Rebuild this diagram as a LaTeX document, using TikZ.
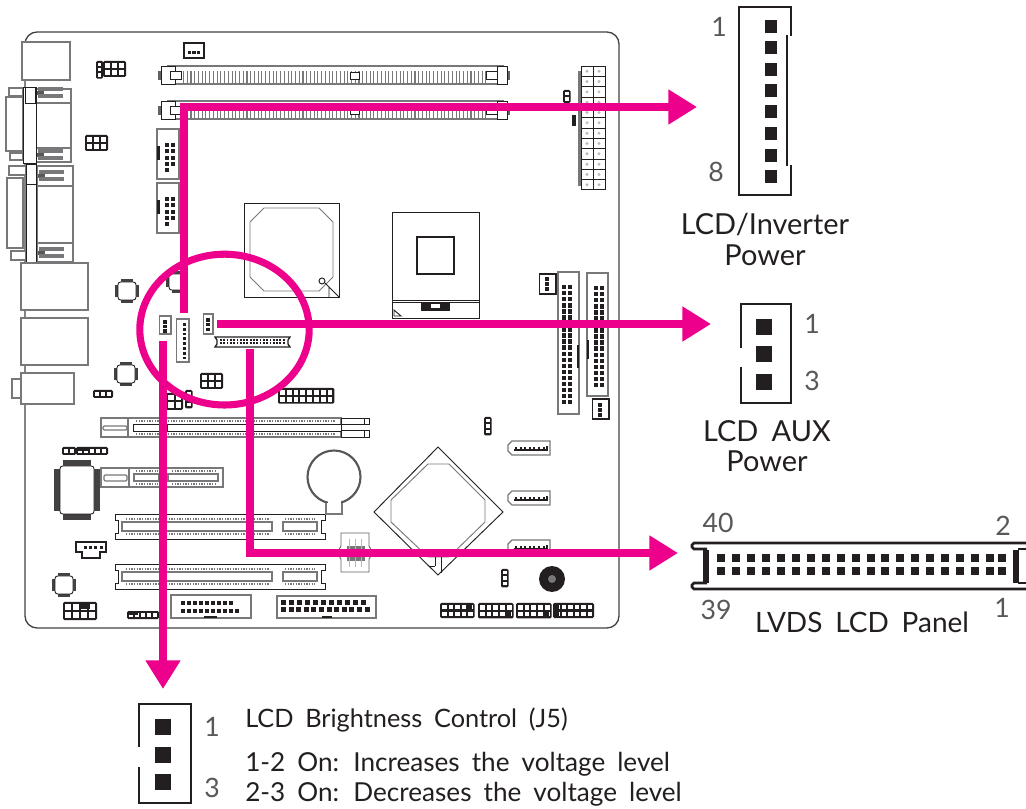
\documentclass[tikz,border=0pt]{standalone}
\usepackage{fontspec}
\setmainfont[WordSpace=1.8]{Lato}
\usetikzlibrary{arrows.meta}
\definecolor{ink}{RGB}{35,31,32}
\definecolor{pink}{RGB}{236,0,140}
\definecolor{midgray}{RGB}{120,120,122}
\definecolor{dotgray}{RGB}{185,185,187}
\tikzset{
  part/.style={draw=ink, fill=white, line width=0.7pt},
  soft/.style={draw=midgray, fill=white, line width=0.9pt},
  wall/.style={draw=ink, line width=1.9pt},
  guide/.style={draw=pink, line width=5.3pt, line join=miter,
                -{Triangle[length=21.5pt, width=25pt]}},
  lbl/.style={font=\fontsize{21.7}{26}\selectfont, text=ink, inner sep=0pt},
  num/.style={font=\fontsize{20}{24}\selectfont, text=ink!75, inner sep=0pt},
  note/.style={font=\fontsize{19.6}{24}\selectfont, text=ink, inner sep=0pt, anchor=west},
  tiny/.style={line width=2.2pt, draw=midgray, dash pattern=on 0.9pt off 1.1pt}
}
% black pins: x, y, cols, rows, dx, dy, size
\newcommand{\pins}[7]{\foreach \i in {1,...,#3}\foreach \j in {1,...,#4}
  {\fill[ink] ({#1+(\i-1)*#5},{#2+(\j-1)*#6}) rectangle +(#7,#7);}}
% jumper block: x, y, cols, rows, pitch
\newcommand{\hdr}[5]{\fill[ink, rounded corners=1pt] (#1,#2) rectangle +({#3*#5+2},{#4*#5+2});
  \foreach \i in {1,...,#3}\foreach \j in {1,...,#4}
  {\fill[white] ({#1+2+(\i-1)*#5},{#2+2+(\j-1)*#5}) rectangle +({#5-2},{#5-2});}}
% leaded chip: cx, cy, half width, half height, lead
\newcommand{\chip}[5]{\fill[ink!85] ({#1-#3+3},{#2-#4-#5}) rectangle ({#1+#3-3},{#2+#4+#5});
  \fill[ink!85] ({#1-#3-#5},{#2-#4+3}) rectangle ({#1+#3+#5},{#2+#4-3});
  \draw[part, rounded corners=2pt] ({#1-#3},{#2-#4}) rectangle ({#1+#3},{#2+#4});}
% memory socket: y
\newcommand{\dimm}[1]{
  \draw[soft] (168,#1) rectangle (503,#1+18);
  \draw[tiny, line width=9.5pt, dash pattern=on 0.8pt off 2pt] (183,#1+11) -- (486,#1+11);
  \draw[part, fill=white] (350,#1+6) rectangle (359,#1+13);
  \fill[ink!70] (158,#1+5) rectangle (166,#1+14);
  \draw[part] (161,#1) rectangle (175,#1+18);
  \draw[part] (170,#1+5) rectangle (181,#1+13);
  \fill[ink!70] (503,#1+5) rectangle (510,#1+14);
  \draw[part] (497,#1) rectangle (507,#1+18);
  \draw[part] (486,#1+5) rectangle (497,#1+13);}
% long slot: y
\newcommand{\pcislot}[1]{
  \draw[part] (115,#1) -- (325,#1) -- (325,#1+6) -- (321,#1+6) -- (321,#1+19) -- (325,#1+19) -- (325,#1+25)
    -- (115,#1+25) -- (115,#1+19) -- (118,#1+19) -- (118,#1+6) -- (115,#1+6) -- cycle;
  \draw[soft] (122,#1+8) rectangle (272,#1+17);
  \draw[soft] (283,#1+8) rectangle (317,#1+17);
  \draw[tiny] (126,#1+5) -- (270,#1+5) (126,#1+20) -- (270,#1+20);
  \draw[tiny] (285,#1+5) -- (315,#1+5) (285,#1+20) -- (315,#1+20);}
% sata socket: y
\newcommand{\sata}[1]{
  \draw[soft] (512,#1) -- (550,#1) -- (550,#1+14) -- (512,#1+14) -- (508,#1+10) -- (508,#1+4) -- cycle;
  \fill[ink] (514,#1+8) rectangle (547,#1+10);
  \pins{515}{#1+6}{7}{1}{4.6}{1}{2}
  \fill[ink] (546,#1+5) rectangle (547.5,#1+10);}
\begin{document}
\begin{tikzpicture}[x=0.75pt, y=-0.75pt]
  \useasboundingbox (0,0) rectangle (1026,809);
  \fill[white] (0,0) rectangle (1026,809);
  % board
  \draw[draw=ink!85, line width=1pt, rounded corners=9pt] (25,32) rectangle (619,628);
  % left edge ports
  \draw[soft] (22,42) rectangle (70,80);
  \draw[soft] (6,97) rectangle (23,151);
  \draw[soft] (9,88) rectangle (23,96);
  \draw[soft] (10,153) rectangle (23,160);
  \draw[soft] (36,89) rectangle (71,162);
  \draw[soft] (36,103) -- (71,103) (36,148) -- (71,148);
  \draw[part] (23,87) rectangle (36,163);
  \draw[part] (25,87) rectangle (35,103);
  \foreach \sy in {93,155}{
    \fill[ink!75] (37,\sy-1.5) rectangle (44,\sy+2);
    \draw[soft] (38,\sy-5) -- (62,\sy-5) -- (62,\sy-3) -- (38,\sy-3);
    \draw[soft] (38,\sy+2) -- (62,\sy+2) -- (62,\sy+4) -- (38,\sy+4);}
  \draw[soft] (7,178) rectangle (23,248);
  \draw[soft] (9,166) rectangle (26,175);
  \draw[soft] (11,251) rectangle (26,260);
  \draw[soft] (37,166) rectangle (73,262);
  \draw[soft] (37,186) -- (73,186) (37,243) -- (73,243);
  \draw[part] (26,164) rectangle (36,263);
  \draw[part] (26,164) rectangle (36,184);
  \foreach \sy in {176,253}{
    \fill[ink!75] (38,\sy-1.5) rectangle (45,\sy+2);
    \draw[soft] (39,\sy-5) -- (63,\sy-5) -- (63,\sy-3) -- (39,\sy-3);
    \draw[soft] (39,\sy+2) -- (63,\sy+2) -- (63,\sy+4) -- (39,\sy+4);}
  \draw[soft] (21,263) rectangle (88,310);
  \draw[soft] (21,318) rectangle (88,365);
  \draw[soft] (12,379) rectangle (21,398);
  \draw[soft] (21,373) rectangle (74,404);
  % top row
  \draw[part, line width=1.1pt] (184,43) rectangle (204,58);
  \pins{188}{51}{3}{1}{4.3}{1}{3.2}
  \hdr{96}{61}{1}{3}{5.2}
  \hdr{103}{61}{3}{2}{7}
  \hdr{85}{135}{3}{2}{7}
  \dimm{66}
  \dimm{101}
  % boxed headers beside the ports
  \foreach \by in {129,183}{
    \draw[soft] (157,\by) rectangle (179,\by+50);
    \fill[ink] (157,\by+17) rectangle (159.5,\by+31);
    \pins{165}{\by+14}{2}{4}{6}{6.3}{4}
    \pins{165}{\by+39}{1}{1}{6}{6}{4}}
  % power
  \fill[midgray] (578,71) rectangle (581,186);
  \foreach \ax in {581,593}\foreach \ay in {0,...,11}{
    \draw[part] (\ax,66+\ay*10.33) rectangle +(12,10.33);
    \fill[dotgray] (\ax+6,66+\ay*10.33+5.2) circle[radius=1.6];}
  \hdr{563}{90}{1}{2}{5.5}
  \fill[ink] (572,115) rectangle (576,126);
  % bridge and cpu
  \draw[part] (244,203) rectangle (339,297);
  \draw[soft, line width=0.7pt] (264,208) -- (319,208) -- (333,222) -- (333,277) -- (319,291) -- (264,291) -- (250,277) -- (250,222) -- cycle;
  \draw[part] (322,281) circle[radius=3];
  \draw[part] (339,297) -- (325,283) (329,287) -- (329,297);
  \draw[part] (392,212) rectangle (479,318);
  \draw[part, line width=1pt] (417,237) rectangle (454,274);
  \draw[part] (392,300) -- (479,300) (392,302) -- (479,302);
  \fill[ink] (421,302) rectangle (450,311);
  \fill[white] (431,304) rectangle (440,308);
  \draw[part] (394,310) -- (394,316) -- (401,316) -- cycle;
  % ide
  \draw[soft] (558,272) rectangle (579,414);
  \pins{562}{285}{2}{20}{6}{6.05}{4.4}
  \fill[ink] (577,345) rectangle (579,368);
  \draw[soft] (587,273) rectangle (608,396);
  \pins{594}{286}{2}{17}{6}{6.05}{4.4}
  \fill[ink] (587,340) rectangle (589,359);
  \draw[part, line width=1.1pt] (539.5,274) rectangle (556,294);
  \pins{545}{277}{1}{3}{1}{5}{4}
  \draw[part, line width=1.1pt] (592.5,399) rectangle (609,419);
  \pins{598}{403}{1}{3}{1}{5}{4}
  % chips
  \chip{127}{291}{9}{9}{3}
  \chip{126}{374}{9}{9}{3}
  \chip{177}{282}{8}{8}{3}
  \chip{77}{490}{17}{24}{6}
  \chip{64}{585}{9}{9}{3}
  % circled group
  \draw[soft] (159.5,316) rectangle (171,334);
  \pins{163}{320}{1}{3}{1}{4.6}{3.6}
  \draw[soft] (176.5,319) rectangle (189,362);
  \pins{183}{323}{1}{8}{1}{4.8}{2.8}
  \draw[soft] (203.5,314) rectangle (213,334);
  \pins{206}{318}{1}{3}{1}{4.8}{3.6}
  \draw[part, line width=1pt] (215,337) -- (290,337) -- (288,340) -- (288,344) -- (290,347) -- (215,347) -- (217,344) -- (217,340) -- cycle;
  \pins{220}{339.5}{20}{2}{3.3}{3}{1.8}
  \hdr{200}{373}{3}{2}{7}
  \hdr{166}{393}{2}{2}{7.5}
  \hdr{185}{390}{1}{3}{5.5}
  \hdr{278}{388}{8}{2}{6.8}
  % small headers
  \hdr{93}{390}{3}{1}{6}
  \hdr{62}{447}{2}{1}{6}
  \hdr{76}{447}{5}{1}{6}
  \fill[ink] (78,448) rectangle (89,451);
  \draw[part, line width=1pt] (76,542) -- (106,542) -- (106,552) -- (100,552) -- (100,558) -- (82,558) -- (82,552) -- (76,552) -- cycle;
  \pins{84}{546}{4}{1}{5.2}{1}{3}
  \hdr{63}{602}{4}{2}{8}
  \fill[ink] (79,602) rectangle (90,609);
  \hdr{127}{611}{5}{1}{6}
  \fill[ink] (128,612) rectangle (138,615);
  % expansion slots
  \draw[soft] (101,418) rectangle (128,437);
  \draw[soft, rounded corners=1pt] (103,426) rectangle (127,430);
  \draw[soft] (128,418) rectangle (341,437);
  \draw[part] (133,424) rectangle (341,431);
  \draw[part] (167,424) -- (167,431);
  \draw[tiny] (136,421) -- (335,421) (136,434) -- (335,434);
  \draw[part] (341,418) rectangle (369,424.5);
  \draw[part] (341,430.5) rectangle (369,437);
  \draw[part] (364,418) rectangle (369,424.5) (364,430.5) rectangle (369,437);
  \draw[soft] (101,468) rectangle (129,487);
  \draw[soft, rounded corners=1pt] (104,475) rectangle (127,481);
  \draw[soft] (129,468) rectangle (223,487);
  \draw[soft] (134,474) rectangle (159,481);
  \draw[soft] (168,474) rectangle (218,481);
  \draw[tiny] (136,471) -- (158,471) (136,484) -- (158,484) (172,471) -- (216,471) (172,484) -- (216,484);
  \pcislot{514}
  \pcislot{564}
  % boxed rear headers
  \draw[soft] (171,595) rectangle (251,618);
  \pins{181}{601}{9}{1}{6}{1}{4.4}
  \pins{181}{609}{10}{1}{6}{1}{4.4}
  \fill[ink] (204,615.5) rectangle (217,618);
  \draw[soft] (277,596) rectangle (376,618);
  \pins{281}{600}{11}{1}{8}{1}{5}
  \pins{281}{607.5}{12}{1}{7.6}{1}{5}
  \fill[ink] (322,615.5) rectangle (332,618);
  % battery
  \draw[draw=ink!75, fill=white, line width=1.6pt] (334,477) circle[radius=26.5];
  \draw[soft] (326,503) -- (326,514) -- (342,514) -- (342,503);
  \fill[white] (327.5,498) rectangle (340.5,512);
  % clock part
  \draw[draw=ink!70, fill=white, line width=0.7pt] (341,533) -- (369,533) -- (369,546) -- (373,553) -- (369,559) -- (369,572) -- (341,572) -- (341,559) -- (337,553) -- (341,546) -- cycle;
  \fill[midgray] (347,546) rectangle (365,561);
  \foreach \cx in {349,355,361}{\draw[dotgray] (\cx,539) -- (\cx,567);}
  % south chip
  \draw[part] (438,447) -- (503,512) -- (438,575) -- (374,512) -- cycle;
  \draw[soft, line width=0.7pt] (428,464) -- (449,464) -- (485,500) -- (485,522) -- (449,557) -- (428,557) -- (391,522) -- (391,500) -- cycle;
  \draw[part] (435,557) -- (435,566) (441,557) -- (441,573) (430,566) -- (435,566);
  % sata and jumpers
  \sata{441}
  \sata{491}
  \sata{540}
  \hdr{484}{417}{1}{3}{5.5}
  \hdr{501}{569}{1}{3}{5.5}
  \fill[ink] (552,579) circle[radius=13];
  \fill[midgray] (552,579) circle[radius=4];
  % bottom row
  \hdr{440}{603}{5}{2}{6.5}
  \hdr{478}{603}{5}{2}{6.7}
  \hdr{516}{603}{5}{2}{6.7}
  \hdr{553}{603}{6}{2}{6.5}
  \fill[ink] (466,604) rectangle (472,610);
  \fill[ink] (505,610) rectangle (511,616);
  \fill[ink] (544,610) rectangle (549,616);
  \fill[ink] (554,604) rectangle (559,616);

  % guide lines
  \coordinate (j8from) at (184,313);
  \coordinate (j8bend) at (184,107);
  \coordinate (j8to) at (697,107);
  \coordinate (auxfrom) at (217,324);
  \coordinate (auxto) at (711,324);
  \coordinate (j5from) at (163,341);
  \coordinate (j5to) at (163,689);
  \coordinate (lvdsfrom) at (250,349);
  \coordinate (lvdsbend) at (250,553);
  \coordinate (lvdsto) at (678,553);
  \draw[draw=pink, line width=5.3pt] (224.5,329.6) ellipse[x radius=84.7, y radius=75.4];
  \draw[guide] (j8from) -- (j8bend) -- (j8to);
  \draw[guide] (auxfrom) -- (auxto);
  \draw[guide] (j5from) -- (j5to);
  \draw[guide] (lvdsfrom) -- (lvdsbend) -- (lvdsto);

  % connector J8 enlarged
  \draw[wall] (791,36) -- (791,7) -- (739,7) -- (739,195) -- (791,195) -- (791,165);
  \draw[wall] (787,35) -- (787,166);
  \foreach \py in {26.3,47.3,69.3,90.3,111.3,133.3,155.3,176.3}{\fill[ink] (765,\py-6.5) rectangle +(12,13);}
  \node[num] (j8one) at (719,27) {1};
  \node[num] (j8eight) at (716,172) {8};
  \node[lbl] (j8nameA) at (765,224) {LCD/Inverter};
  \node[lbl] (j8nameB) at (765,255) {Power};
  % connector aux enlarged
  \draw[wall] (741,348) -- (741,304) -- (791,304) -- (791,403) -- (741,403) -- (741,367);
  \pins{756}{319}{1}{3}{1}{27.5}{16}
  \node[num] (auxone) at (812,324) {1};
  \node[num] (auxthree) at (812,381) {3};
  \node[lbl] (auxnameA) at (767,431) {LCD AUX};
  \node[lbl] (auxnameB) at (767,461) {Power};
  % connector lvds enlarged
  \draw[wall] (1026,543) -- (694,543) -- (692,545) -- (692,547) -- (694,549) -- (707,549) (707,583) -- (694,583) -- (692,585) -- (692,587) -- (694,589) -- (1026,589);
  \draw[wall] (1026,549) -- (1018,549) (1026,583) -- (1018,583);
  \fill[ink] (703,550) rectangle (709,583);
  \fill[ink] (1013,550) rectangle (1019,583);
  \pins{717}{554}{19}{2}{14.95}{13.5}{8}
  \pins{998}{554}{1}{2}{1}{13.5}{8}
  \node[num] (lvdsforty) at (718,523) {40};
  \node[num] (lvdstwo) at (1003,526) {2};
  \node[num] (lvdsnine) at (716,610) {39};
  \node[num] (lvdsone) at (1002,608) {1};
  \node[lbl, font=\fontsize{21}{26}\selectfont] (lvdsname) at (862,622) {LVDS LCD Panel};
  % connector J5 enlarged
  \draw[wall] (139,747) -- (139,704) -- (191,704) -- (191,803) -- (139,803) -- (139,767);
  \pins{155}{719}{1}{3}{1}{27.5}{16}
  \node[num] (j5one) at (212,727) {1};
  \node[num] (j5three) at (212,788) {3};
  \node[note, font=\fontsize{19}{24}\selectfont] (j5name) at (245,720) {LCD Brightness Control (J5)};
  \node[note] (j5on) at (245,764) {1-2 On: Increases the voltage level};
  \node[note] (j5off) at (245,794) {2-3 On: Decreases the voltage level};
\end{tikzpicture}
\end{document}
